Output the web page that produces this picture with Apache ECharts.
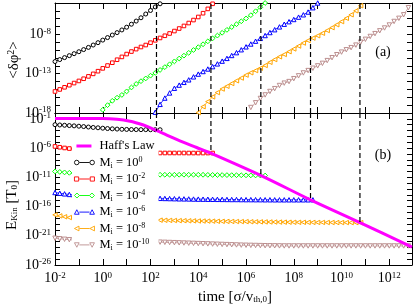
<!DOCTYPE html>
<html>
<head>
<meta charset="utf-8">
<script src="https://cdn.jsdelivr.net/npm/echarts@6/dist/echarts.min.js"></script>
<style>
html,body{margin:0;padding:0;background:#fff;}
#chart{width:415px;height:308px;}
</style>
</head>
<body>
<div id="chart"></div>
<script>
// every number below is a log10 exponent
var logT = [-2,-1.8,-1.6,-1.4,-1.2,-1,-0.8,-0.6,-0.4,-0.2,0,0.2,0.4,0.6,0.8,1,1.2,1.4,1.6,1.8,
	2,2.2,2.4,2.6,2.8,3,3.2,3.4,3.6,3.8,4,4.2,4.4,4.6,4.8,5,5.2,5.4,5.6,5.8,
	6,6.2,6.4,6.6,6.8,7,7.2,7.4,7.6,7.8,8,8.2,8.4,8.6,8.8,9,9.2,9.4,9.6,9.8,
	10,10.2,10.4,10.6,10.8,11,11.2,11.4,11.6,11.8,12,12.2,12.4,12.6,12.8];

// panel (a): <dphi^2>, index into logT where each curve starts
var phiStart = [0, 0, 10, 21, 30, 41];
var phiM0 = [-11.45,-11.2,-10.95,-10.7,-10.45,-10.2,-9.93,-9.65,-9.35,-9.05,-8.72,-8.4,-8.08,-7.77,-7.43,-7.08,-6.7,-6.3,-5.88,-5.4,-4.95,-4.5,-4.1];
var phiM2 = [-15.26,-15.0,-14.73,-14.46,-14.19,-13.92,-13.64,-13.34,-13.02,-12.68,-12.32,-11.96,-11.6,-11.22,-10.86,-10.5,-10.18,-9.87,-9.6,-9.35,-9.05,-8.75,-8.45,-8.17,-7.88,-7.57,-7.25,-6.92,-6.55,-6.17,-5.78,-5.3,-4.75,-4.1];
var phiM4 = [-17.6,-17.0,-16.45,-16.05,-15.7,-15.25,-14.75,-14.3,-13.95,-13.6,-13.25,-12.9,-12.52,-12.16,-11.8,-11.43,-11.07,-10.7,-10.34,-9.98,-9.62,-9.25,-8.88,-8.5,-8.15,-7.79,-7.42,-7.06,-6.7,-6.33,-5.97,-5.55,-5.05,-4.55,-4.0];
var phiM6 = [-17.9,-16.9,-16.1,-15.45,-14.85,-14.45,-14.1,-13.78,-13.4,-13.05,-12.72,-12.4,-12.1,-11.75,-11.4,-11.05,-10.68,-10.32,-9.95,-9.58,-9.22,-8.86,-8.5,-8.14,-7.76,-7.4,-7.04,-6.7,-6.38,-6.1,-5.8,-5.5,-5.15,-4.6,-4.0];
var phiM8 = [-17.95,-17.2,-16.55,-15.95,-15.4,-14.95,-14.6,-14.25,-13.9,-13.55,-13.18,-12.88,-12.6,-12.3,-11.95,-11.55,-11.2,-10.85,-10.55,-10.2,-9.85,-9.48,-9.1,-8.78,-8.47,-8.17,-7.85,-7.5,-7.14,-6.77,-6.37,-5.95,-5.5,-5.0,-4.35];
var phiM10 = [-17.3,-16.7,-16.15,-15.7,-15.26,-14.9,-14.5,-14.2,-14.0,-13.63,-13.27,-12.9,-12.6,-12.3,-12.0,-11.68,-11.33,-10.96,-10.58,-10.25,-9.95,-9.68,-9.36,-8.98,-8.62,-8.26,-7.9,-7.54,-7.18,-6.8,-6.35,-5.95,-5.5,-4.6];

// panel (b): E_kin, all start at logT[0]
var eM0 = [-2.0,-2.05,-2.1,-2.15,-2.2,-2.26,-2.32,-2.4,-2.47,-2.53,-2.6,-2.66,-2.71,-2.75,-2.79,-2.81,-2.83,-2.84,-2.85,-2.85,-2.86,-2.86,-2.86];
var eM2 = [-5.72,-5.86,-5.98,-6.08,-6.18,-6.28,-6.38,-6.47,-6.55,-6.62,-6.68,-6.72,-6.75,-6.78,-6.8,-6.81,-6.82,-6.83,-6.84,-6.84,-6.84,-6.84,-6.84,-6.84,-6.84,-6.84,-6.84,-6.84,-6.85,-6.85,-6.85,-6.85,-6.85,-6.85];
var eM4 = [-10.0,-10.08,-10.16,-10.23,-10.29,-10.34,-10.38,-10.42,-10.45,-10.48,-10.5,-10.52,-10.53,-10.54,-10.55,-10.55,-10.56,-10.56,-10.56,-10.56,-10.56,-10.56,-10.56,-10.56,-10.56,-10.56,-10.56,-10.56,-10.56,-10.56,-10.56,-10.57,-10.58,-10.59,-10.6,-10.61,-10.62,-10.63,-10.64,-10.65,-10.66,-10.67,-10.68,-10.69,-10.7];
var eM6 = [-13.6,-13.72,-13.83,-13.93,-14.02,-14.1,-14.17,-14.24,-14.3,-14.35,-14.39,-14.42,-14.45,-14.47,-14.49,-14.51,-14.52,-14.53,-14.54,-14.55,-14.56,-14.58,-14.6,-14.62,-14.64,-14.66,-14.68,-14.69,-14.7,-14.72,-14.73,-14.74,-14.75,-14.76,-14.77,-14.78,-14.79,-14.8,-14.8,-14.81,-14.82,-14.82,-14.83,-14.83,-14.84,-14.84,-14.85,-14.85,-14.85,-14.85,-14.85,-14.85,-14.85,-14.85,-14.85];
var eM8 = [-17.42,-17.6,-17.75,-17.88,-17.99,-18.06,-18.1,-18.14,-18.17,-18.19,-18.21,-18.22,-18.23,-18.24,-18.25,-18.26,-18.27,-18.27,-18.28,-18.28,-18.29,-18.31,-18.33,-18.35,-18.37,-18.39,-18.41,-18.42,-18.44,-18.45,-18.47,-18.48,-18.49,-18.5,-18.52,-18.53,-18.54,-18.55,-18.56,-18.57,-18.58,-18.6,-18.61,-18.62,-18.63,-18.64,-18.65,-18.66,-18.67,-18.68,-18.69,-18.7,-18.7,-18.71,-18.71,-18.72,-18.72,-18.73,-18.73,-18.74,-18.74,-18.74,-18.75,-18.75,-18.75];
var eM10 = [-21.42,-21.52,-21.6,-21.67,-21.73,-21.78,-21.82,-21.86,-21.89,-21.92,-21.94,-21.96,-21.97,-21.98,-21.99,-22.0,-22.0,-22.01,-22.01,-22.02,-22.03,-22.06,-22.09,-22.12,-22.15,-22.18,-22.21,-22.24,-22.27,-22.3,-22.33,-22.36,-22.39,-22.42,-22.45,-22.48,-22.51,-22.54,-22.57,-22.6,-22.62,-22.64,-22.66,-22.68,-22.7,-22.71,-22.72,-22.73,-22.74,-22.74,-22.74,-22.74,-22.74,-22.74,-22.74,-22.74,-22.74,-22.74,-22.74,-22.74,-22.74,-22.74,-22.74,-22.74,-22.74,-22.74,-22.74,-22.74,-22.74,-22.74,-22.74,-22.74,-22.74,-22.74,-22.74];

// Haff's law, [logt, logE]
var haffT = [-2, 0, 0.6, 1.14, 1.5, 1.83, 2.2, 2.53, 3.23, 3.93, 4.5, 6.65, 8.7, 10.77, 12.95];
var haffE = [-0.96, -0.96, -1.08, -1.4, -1.8, -2.26, -2.9, -3.5, -4.75, -5.9, -6.84, -10.75, -14.85, -18.74, -22.95];

// dashed crossover markers
var crossT = [2.25, 4.53, 6.62, 8.7, 10.77];
var crossE = [-3.05, -6.84, -10.7, -14.85, -18.75];

var xTickLabels = [-2, 0, 2, 4, 6, 8, 10, 12];
var yTopLabels = [-18, -13, -8];
var yBotLabels = [-26, -21, -16, -11, -6, -1];

var names = ['M0','M2','M4','M6','M8','M10'];
var massExp = ['0','-2','-4','-6','-8','-10'];
var colors = ['#000000','#ff0000','#00ff00','#0000ff','#ffa500','#bc8f8f'];
var symbols = ['circle','rect','diamond','triangle','triangle','triangle'];
var symSize = [4, 3.6, 4.8, 4.4, 4.4, 4.4];
var symRot = [0, 0, 0, 0, 90, 180];
var phiData = [phiM0, phiM2, phiM4, phiM6, phiM8, phiM10];
var eData = [eM0, eM2, eM4, eM6, eM8, eM10];

// legend icons: symbol - line - symbol, as in the original
var iconShapes = [
	function(o){ return 'M' + (o + 0.3) + ',2.5A2.2,2.2,0,1,1,' + (o + 4.7) + ',2.5A2.2,2.2,0,1,1,' + (o + 0.3) + ',2.5Z'; },
	function(o){ return 'M' + (o + 0.5) + ',0.5H' + (o + 4.5) + 'V4.5H' + (o + 0.5) + 'Z'; },
	function(o){ return 'M' + (o + 2.5) + ',0L' + (o + 5) + ',2.5L' + (o + 2.5) + ',5L' + o + ',2.5Z'; },
	function(o){ return 'M' + (o + 2.5) + ',0.2L' + (o + 4.8) + ',4.6L' + (o + 0.2) + ',4.6Z'; },
	function(o){ return 'M' + (o + 0.2) + ',2.5L' + (o + 4.6) + ',0.2L' + (o + 4.6) + ',4.8Z'; },
	function(o){ return 'M' + (o + 0.2) + ',0.4L' + (o + 4.8) + ',0.4L' + (o + 2.5) + ',4.8Z'; }
];
function legendIcon(k){
	return 'path://' + iconShapes[k](0) + 'M5,2.5L15,2.5' + iconShapes[k](15);
}

var SERIF = '"Liberation Serif", "DejaVu Serif", serif';

function pts(arr, from){
	return arr.map(function(v, i){ return [logT[from + i], v]; });
}
function powLabel(list){
	return function(v){
		if(list.indexOf(v) < 0) return '';
		return '{b|10}{s|' + v + '}';
	};
}
var labelRich = {
	b: {fontFamily: SERIF, fontSize: 14, lineHeight: 15, color: '#000'},
	s: {fontFamily: SERIF, fontSize: 9, lineHeight: 9, verticalAlign: 'top', color: '#000'}
};

function xAxisOf(grid, pos, labels){
	return {
		type: 'value', gridIndex: grid, position: pos, min: -2, max: 12.95, interval: 1,
		axisLine: {onZero: false, lineStyle: {color: '#000', width: 1}},
		axisTick: {inside: true, length: 6, lineStyle: {color: '#000'}},
		axisLabel: labels ? {show: true, interval: 0, margin: 6, formatter: powLabel(xTickLabels), rich: labelRich} : {show: false},
		splitLine: {show: false}
	};
}
function yAxisOf(grid, pos, lo, hi, labels){
	return {
		type: 'value', gridIndex: grid, position: pos, min: lo, max: hi, interval: 1,
		axisLine: {onZero: false, lineStyle: {color: '#000', width: 1}},
		axisTick: {inside: true, length: 5, lineStyle: {color: '#000'}},
		axisLabel: labels ? {show: true, interval: 0, margin: 4, formatter: powLabel(labels), rich: labelRich} : {show: false},
		splitLine: {show: false}
	};
}

var series = [];
for(var k = 0; k < names.length; k++){
	var common = {
		name: names[k], type: 'line',
		symbol: symbols[k], symbolSize: symSize[k], symbolRotate: symRot[k],
		itemStyle: {color: '#fff', borderColor: colors[k], borderWidth: 1},
		lineStyle: {color: colors[k], width: 0.8},
		emphasis: {disabled: true}
	};
	series.push(Object.assign({}, common, {xAxisIndex: 2, yAxisIndex: 2, data: pts(eData[k], 0)}));
	series.push(Object.assign({}, common, {xAxisIndex: 0, yAxisIndex: 0, data: pts(phiData[k], phiStart[k])}));
}
series.push({
	name: "Haff's Law", type: 'line', xAxisIndex: 2, yAxisIndex: 2, smooth: 0.3,
	symbol: 'none', lineStyle: {color: '#ff00ff', width: 3}, itemStyle: {color: '#ff00ff'},
	data: haffT.map(function(t, i){ return [t, haffE[i]]; }), z: 5
});
for(var c = 0; c < crossT.length; c++){
	var dash = {type: 'line', symbol: 'none', silent: true, z: 6,
		lineStyle: {color: '#000', width: 1.2, type: [5, 3]}};
	series.push(Object.assign({}, dash, {xAxisIndex: 0, yAxisIndex: 0, data: [[crossT[c], -18], [crossT[c], -4]]}));
	series.push(Object.assign({}, dash, {xAxisIndex: 2, yAxisIndex: 2, data: [[crossT[c], 0], [crossT[c], crossE[c]]]}));
}

var legendData = [{name: "Haff's Law", icon: 'path://M0,0L0.01,0L0,0.01ZM2,1H17V4H2ZM20,5L19.99,5L20,4.99Z',
	itemStyle: {color: '#ff00ff', borderWidth: 0}}];
names.forEach(function(n, k){
	legendData.push({name: n, icon: legendIcon(k),
		itemStyle: {color: '#fff', borderColor: colors[k], borderWidth: 0.9}});
});

var legendText = {fontFamily: SERIF, fontSize: 12.5, lineHeight: 14, color: '#000'};
var option = {
	animation: false,
	backgroundColor: '#fff',
	grid: [
		{left: 55, right: 3, top: 3, height: 110},
		{left: 55, right: 3, top: 113, height: 152}
	],
	xAxis: [
		xAxisOf(0, 'bottom', false),
		xAxisOf(0, 'top', false),
		xAxisOf(1, 'bottom', true),
		xAxisOf(1, 'top', false)
	],
	yAxis: [
		yAxisOf(0, 'left', -18, -4, yTopLabels),
		yAxisOf(0, 'right', -18, -4, null),
		yAxisOf(1, 'left', -26, 0, yBotLabels),
		yAxisOf(1, 'right', -26, 0, null)
	],
	legend: {
		orient: 'vertical', left: 72, top: 137,
		itemWidth: 20, itemHeight: 5, itemGap: 2.5,
		padding: [2, 4, 2, 2], backgroundColor: '#fff',
		selectedMode: false,
		data: legendData,
		textStyle: {fontFamily: SERIF, fontSize: 12.5, lineHeight: 14, color: '#000',
			rich: {
				m: legendText,
				sub: {fontFamily: SERIF, fontSize: 8, lineHeight: 8, verticalAlign: 'bottom', color: '#000'},
				sup: {fontFamily: SERIF, fontSize: 8, lineHeight: 8, verticalAlign: 'top', color: '#000'}
			}},
		formatter: function(name){
			var i = names.indexOf(name);
			if(i < 0) return '{m|' + name + '}';
			return '{m|M}{sub|i}{m| = 10}{sup|' + massExp[i] + '}';
		}
	},
	graphic: [
		{type: 'text', x: 14, y: 60, rotation: Math.PI / 2, silent: true,
			style: {text: '<δφ{s|2}>', fill: '#000', font: '15px ' + SERIF, align: 'center', verticalAlign: 'middle',
				textAlign: 'center', textVerticalAlign: 'middle',
				rich: {s: {fontFamily: SERIF, fontSize: 10, lineHeight: 10, verticalAlign: 'top'}}}},
		{type: 'text', x: 12, y: 205, rotation: Math.PI / 2, silent: true,
			style: {text: 'E{s|Kin} [T{s|0}]', fill: '#000', font: '15px ' + SERIF, align: 'center', verticalAlign: 'middle',
				textAlign: 'center', textVerticalAlign: 'middle',
				rich: {s: {fontFamily: SERIF, fontSize: 9, lineHeight: 9, verticalAlign: 'bottom'}}}},
		{type: 'text', x: 235, y: 297, silent: true,
			style: {text: 'time [σ/v{s|th,0}]', fill: '#000', font: '15px ' + SERIF, align: 'center', verticalAlign: 'middle',
				textAlign: 'center', textVerticalAlign: 'middle',
				rich: {s: {fontFamily: SERIF, fontSize: 9, lineHeight: 9, verticalAlign: 'bottom'}}}},
		{type: 'text', x: 383, y: 52, silent: true,
			style: {text: '(a)', fill: '#000', font: '14px ' + SERIF, align: 'center', verticalAlign: 'middle',
				textAlign: 'center', textVerticalAlign: 'middle'}},
		{type: 'text', x: 383, y: 155, silent: true,
			style: {text: '(b)', fill: '#000', font: '14px ' + SERIF, align: 'center', verticalAlign: 'middle',
				textAlign: 'center', textVerticalAlign: 'middle'}}
	],
	series: series
};

var chart = echarts.init(document.getElementById('chart'));
chart.setOption(option);
</script>
</body>
</html>
